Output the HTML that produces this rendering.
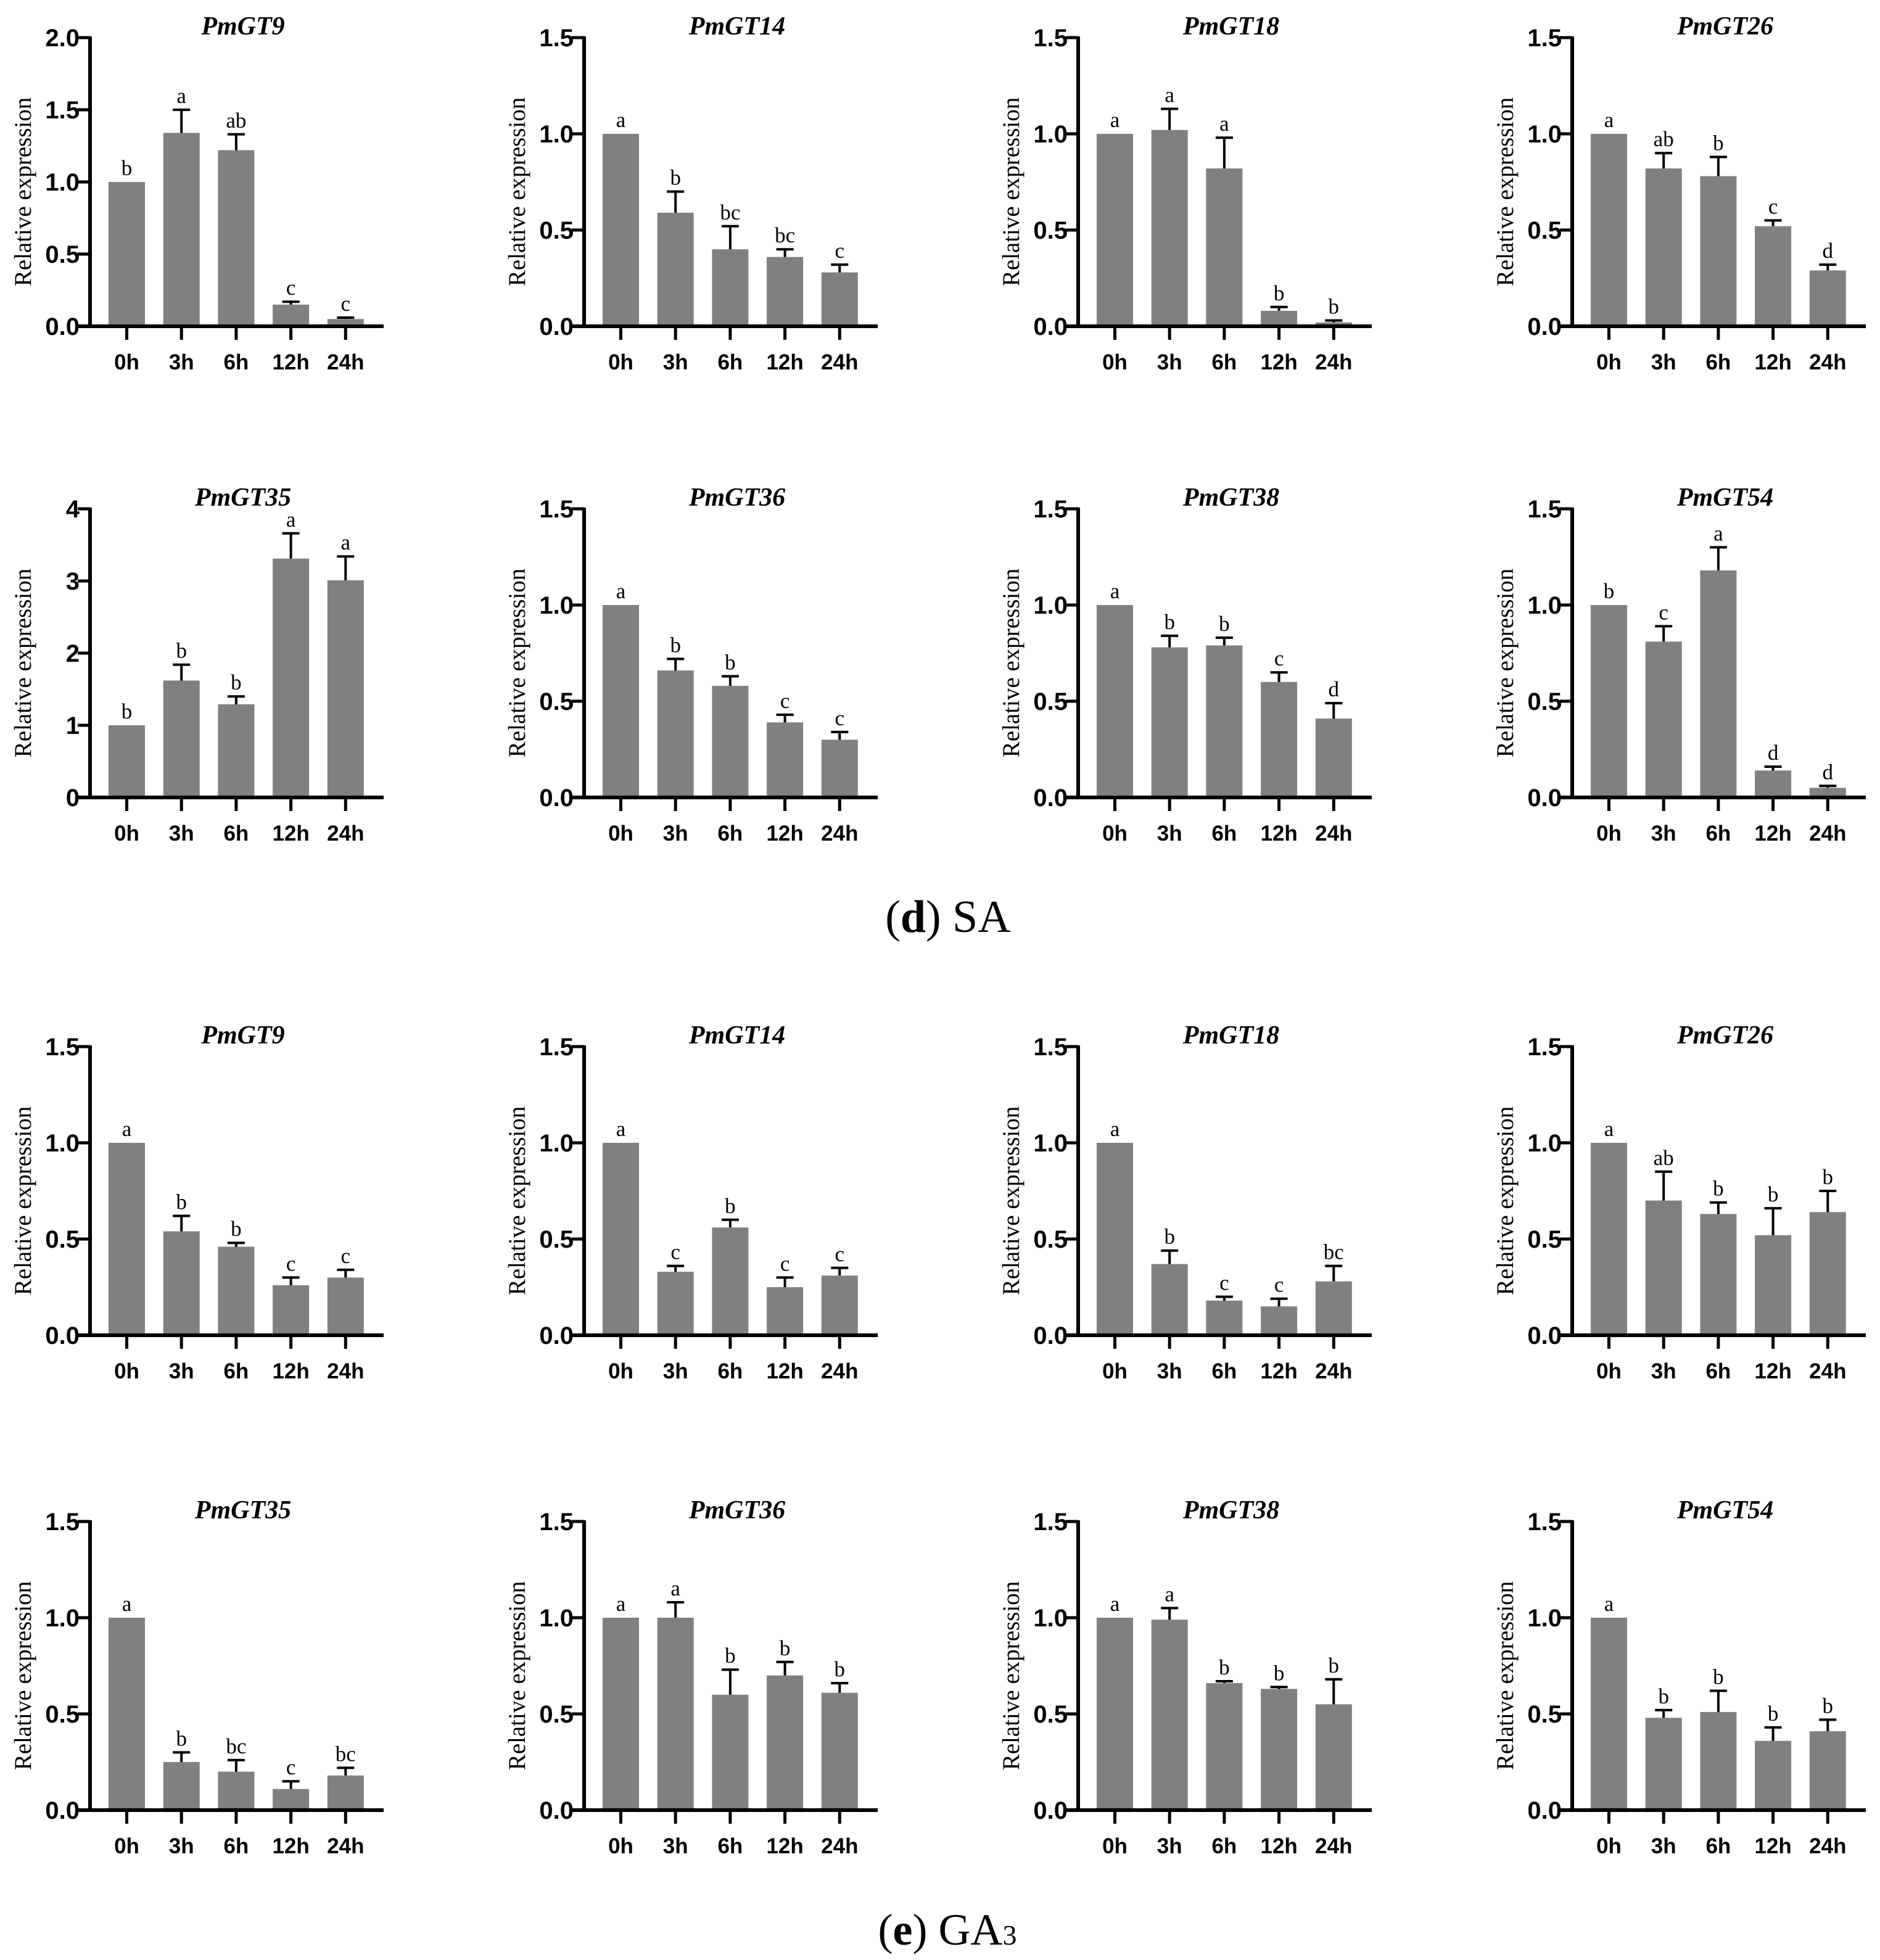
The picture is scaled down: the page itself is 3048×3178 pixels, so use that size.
<!DOCTYPE html>
<html><head><meta charset="utf-8">
<style>
html,body{margin:0;padding:0;background:#fff;}
svg{display:block;}
</style></head>
<body>
<svg id="fig" width="3048" height="3178" viewBox="0 0 3048 3178" xmlns="http://www.w3.org/2000/svg">
<rect x="0" y="0" width="3048" height="3178" fill="#fff"/>
<text x="1537" y="1511" text-anchor="middle" font-family="Liberation Serif, serif" font-size="74">(<tspan font-weight="bold">d</tspan>) SA</text>
<text x="1536" y="3153" text-anchor="middle" font-family="Liberation Serif, serif" font-size="72">(<tspan font-weight="bold">e</tspan>) GA<tspan font-size="46">3</tspan></text>
</svg>
<script>
const categories = ["0h","3h","6h","12h","24h"];
const titles = ["PmGT9","PmGT14","PmGT18","PmGT26","PmGT35","PmGT36","PmGT38","PmGT54",
                "PmGT9","PmGT14","PmGT18","PmGT26","PmGT35","PmGT36","PmGT38","PmGT54"];
const yMax = [2.0,1.5,1.5,1.5, 4,1.5,1.5,1.5, 1.5,1.5,1.5,1.5, 1.5,1.5,1.5,1.5];
const yStep = [0.5,0.5,0.5,0.5, 1,0.5,0.5,0.5, 0.5,0.5,0.5,0.5, 0.5,0.5,0.5,0.5];
const means = [
  [1.0,1.34,1.22,0.15,0.05],
  [1.0,0.59,0.40,0.36,0.28],
  [1.0,1.02,0.82,0.08,0.02],
  [1.0,0.82,0.78,0.52,0.29],
  [1.0,1.62,1.29,3.31,3.01],
  [1.0,0.66,0.58,0.39,0.30],
  [1.0,0.78,0.79,0.60,0.41],
  [1.0,0.81,1.18,0.14,0.05],
  [1.0,0.54,0.46,0.26,0.30],
  [1.0,0.33,0.56,0.25,0.31],
  [1.0,0.37,0.18,0.15,0.28],
  [1.0,0.70,0.63,0.52,0.64],
  [1.0,0.25,0.20,0.11,0.18],
  [1.0,1.00,0.60,0.70,0.61],
  [1.0,0.99,0.66,0.63,0.55],
  [1.0,0.48,0.51,0.36,0.41]
];
const errors = [
  [0,0.16,0.11,0.02,0.01],
  [0,0.11,0.12,0.04,0.04],
  [0,0.11,0.16,0.02,0.01],
  [0,0.08,0.10,0.03,0.03],
  [0,0.22,0.11,0.35,0.33],
  [0,0.06,0.05,0.04,0.04],
  [0,0.06,0.04,0.05,0.08],
  [0,0.08,0.12,0.02,0.01],
  [0,0.08,0.02,0.04,0.04],
  [0,0.03,0.04,0.05,0.04],
  [0,0.07,0.02,0.04,0.08],
  [0,0.15,0.06,0.14,0.11],
  [0,0.05,0.06,0.04,0.04],
  [0,0.08,0.13,0.07,0.05],
  [0,0.06,0.01,0.01,0.13],
  [0,0.04,0.11,0.07,0.06]
];
const letters = [
  ["b","a","ab","c","c"],
  ["a","b","bc","bc","c"],
  ["a","a","a","b","b"],
  ["a","ab","b","c","d"],
  ["b","b","b","a","a"],
  ["a","b","b","c","c"],
  ["a","b","b","c","d"],
  ["b","c","a","d","d"],
  ["a","b","b","c","c"],
  ["a","c","b","c","c"],
  ["a","b","c","c","bc"],
  ["a","ab","b","b","b"],
  ["a","b","bc","c","bc"],
  ["a","a","b","b","b"],
  ["a","a","b","b","b"],
  ["a","b","b","b","b"]
];

const NS = "http://www.w3.org/2000/svg";
const svg = document.getElementById("fig");
const colX = [146, 947, 1748, 2549];
const rowBase = [529, 1293, 2165, 2935];
const plotH = 468;
function mk(tag, attrs, parent){
  const e = document.createElementNS(NS, tag);
  for (const k in attrs) e.setAttribute(k, attrs[k]);
  parent.appendChild(e);
  return e;
}
for (let c = 0; c < titles.length; c++) {
  const ax = colX[c % 4];
  const base = rowBase[Math.floor(c / 4)];
  const max = yMax[c];
  const yS = v => base - (v / max) * plotH;
  const xS = i => ax + 59.5 + 88.7 * i;
  const g = mk("g", {}, svg);
  
  

  const t = mk("text", {x: ax + 248, y: base - plotH - 5, "text-anchor": "middle", "font-family": "Liberation Serif, serif", "font-size": 42, "font-weight": "bold", "font-style": "italic"}, g);
  
  
  t.textContent = titles[c];

  const yt = mk("text", {x: 0, y: 0, transform: "translate(" + (ax - 96) + "," + (base - plotH / 2 + 16) + ") rotate(-90)", "text-anchor": "middle", "font-family": "Liberation Serif, serif", "font-size": 39}, g);
  
  
  yt.textContent = "Relative expression";

  for (let i = 0; i < categories.length; i++) {
    const v = means[c][i];
    const x = xS(i);
    const bar = mk("rect", {x: x - 29.5, y: yS(v), width: 59, height: base - yS(v), fill: "#808080"}, g);
    
    
    const e = errors[c][i];
    let topY = yS(v);
    if (e > 0) {
      topY = yS(v + e);
      const el = mk("path", {d: "M" + x + " " + yS(v) + " V" + topY + " M" + (x - 14) + " " + topY + " H" + (x + 14), stroke: "#000", "stroke-width": 4, fill: "none"}, g);
      
      
    }
    const lt = mk("text", {x: x, y: topY - 11, "text-anchor": "middle", "font-family": "Liberation Serif, serif", "font-size": 35}, g);
    
    
    lt.textContent = letters[c][i];
    const tk = mk("line", {x1: x, y1: base, x2: x, y2: base + 22, stroke: "#000", "stroke-width": 5}, g);
    
    
    const xl = mk("text", {x: x, y: base + 70, "text-anchor": "middle", "font-family": "Liberation Sans, sans-serif", "font-size": 35, "font-weight": "bold"}, g);
    
    
    xl.textContent = categories[i];
  }
  const n = Math.round(max / yStep[c]);
  for (let k = 0; k <= n; k++) {
    const v = k * yStep[c];
    const y = yS(v);
    const tl = mk("line", {x1: ax - 20, y1: y, x2: ax, y2: y, stroke: "#000", "stroke-width": 5}, g);
    
    
    const lab = mk("text", {x: ax - 17, y: y + 14, "text-anchor": "end", "font-family": "Liberation Sans, sans-serif", "font-size": 40, "font-weight": "bold"}, g);
    
    
    lab.textContent = yStep[c] >= 1 ? String(Math.round(v)) : v.toFixed(1);
  }
  const ya = mk("line", {x1: ax, y1: base - plotH - 2, x2: ax, y2: base + 2.5, stroke: "#000", "stroke-width": 6}, g);
  
  
  const xa = mk("line", {x1: ax - 20, y1: base, x2: ax + 476, y2: base, stroke: "#000", "stroke-width": 6}, g);
  
  
}
</script>
</body></html>
